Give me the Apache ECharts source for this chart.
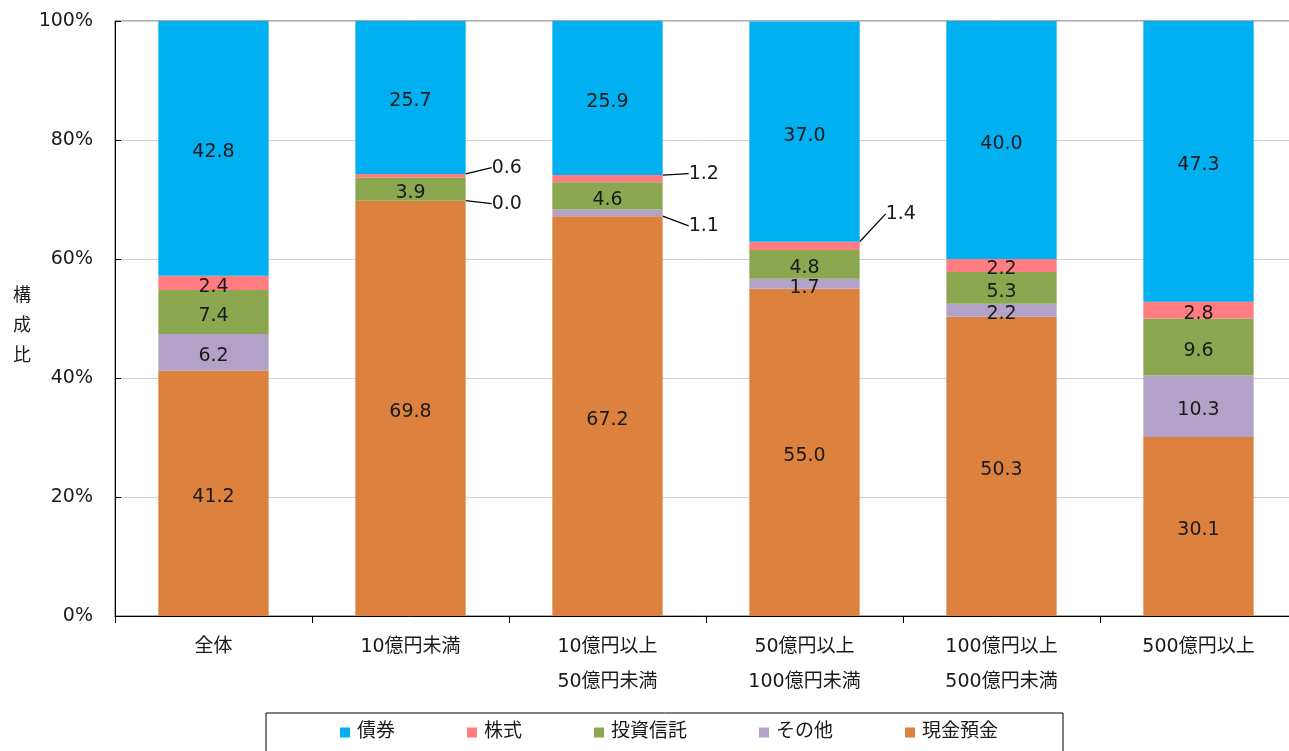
<!DOCTYPE html>
<html>
<head>
<meta charset="utf-8">
<script src="https://cdn.jsdelivr.net/npm/echarts@6/dist/echarts.min.js"></script>
<style>
html,body{margin:0;padding:0;background:#fff;}
#chart{width:1289px;height:751px;}
</style>
</head>
<body>
<div id="chart"></div>
<script>
const categories = ['全体', '10億円未満', '10億円以上\n50億円未満', '50億円以上\n100億円未満', '100億円以上\n500億円未満', '500億円以上'];
const seriesNames = ['現金預金', 'その他', '投資信託', '株式', '債券'];
const cash   = [41.2, 69.8, 67.2, 55.0, 50.3, 30.1];
const other  = [6.2, 0.0, 1.1, 1.7, 2.2, 10.3];
const trust  = [7.4, 3.9, 4.6, 4.8, 5.3, 9.6];
const stocks = [2.4, 0.6, 1.2, 1.4, 2.2, 2.8];
const bonds  = [42.8, 25.7, 25.9, 37.0, 40.0, 47.3];
const yTickLabels = ['0%', '20%', '40%', '60%', '80%', '100%'];

const seriesValues = [cash, other, trust, stocks, bonds];
const colors = ['#DC823E', '#B2A2C8', '#8BA74F', '#FF7C80', '#00B0F0'];
const legendOrder = ['債券', '株式', '投資信託', 'その他', '現金預金'];

// label displacement (dy in px) for small segments labelled outside the bar
const outsideShift = {
  1: {1: 3, 2: 13},          // その他
  3: {1: -8, 2: -5, 3: -32}  // 株式
};

const FONT = '"DejaVu Sans", "Noto Sans CJK JP", sans-serif';

function isOutside(si, i) {
  const m = outsideShift[si];
  return !!(m && m[i] !== undefined);
}

const series = seriesValues.map((vals, si) => ({
  name: seriesNames[si],
  type: 'bar',
  stack: 'total',
  barWidth: '56%',
  itemStyle: {color: colors[si]},
  label: {
    show: true,
    position: 'inside',
    color: '#1a1a1a',
    fontSize: 19,
    fontFamily: FONT,
    formatter: p => Number(p.value).toFixed(1)
  },
  labelLine: {show: false, lineStyle: {color: '#000', width: 1.2}},
  labelLayout: function (params) {
    if (isOutside(params.seriesIndex, params.dataIndex)) {
      return {dx: 20, dy: outsideShift[params.seriesIndex][params.dataIndex]};
    }
    return {dy: 4};
  },
  data: vals.map((v, i) => {
    if (isOutside(si, i)) {
      return {value: v, label: {position: 'right', distance: 6}, labelLine: {show: true}};
    }
    return v;
  })
}));

const chart = echarts.init(document.getElementById('chart'));
chart.setOption({
  animation: false,
  textStyle: {fontFamily: FONT},
  grid: {left: 115, top: 21, width: 1182, height: 595, outerBoundsMode: 'none', containLabel: false, show: true, borderColor: '#595959', borderWidth: 1, backgroundColor: 'transparent'},
  legend: {
    data: legendOrder,
    left: 266,
    top: 713,
    padding: [10, 65, 30, 74],
    borderColor: '#000',
    borderWidth: 1,
    itemGap: 72,
    itemWidth: 10,
    itemHeight: 10,
    icon: 'rect',
    textStyle: {fontSize: 19, color: '#1a1a1a', fontFamily: FONT, padding: [0, 0, 0, 2]}
  },
  xAxis: {
    type: 'category',
    data: categories,
    axisLine: {lineStyle: {color: '#000', width: 1}},
    axisTick: {show: true, length: 7, lineStyle: {color: '#000'}},
    axisLabel: {color: '#1a1a1a', fontSize: 19, lineHeight: 35, margin: 14, fontFamily: FONT}
  },
  yAxis: {
    type: 'value',
    min: 0,
    max: 100,
    interval: 20,
    name: '{s|}\n構\n成\n比',
    nameLocation: 'middle',
    nameRotate: 0,
    nameGap: 84,
    nameTextStyle: {fontSize: 18, lineHeight: 30, color: '#1a1a1a', fontFamily: FONT, rich: {s: {lineHeight: 16, fontSize: 1}}},
    axisLine: {show: true, lineStyle: {color: '#000', width: 1}},
    axisTick: {show: true, inside: true, length: 6, lineStyle: {color: '#000'}},
    axisLabel: {
      color: '#1a1a1a', fontSize: 19, margin: 22, fontFamily: FONT,
      formatter: v => yTickLabels[Math.round(v / 20)]
    },
    splitLine: {show: true, lineStyle: {color: '#d0d0d0', width: 1}}
  },
  series: series
});
</script>
</body>
</html>
